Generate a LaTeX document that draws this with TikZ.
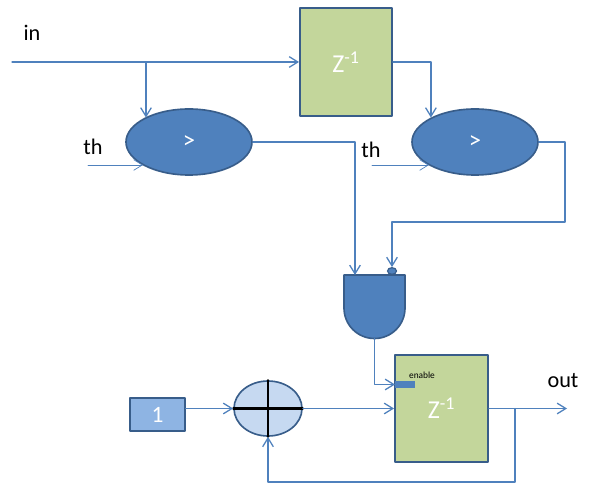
\documentclass[tikz,border=0pt]{standalone}
\usepackage{fontspec}
\setmainfont{Carlito}
\usetikzlibrary{arrows.meta,shapes.geometric}
\definecolor{wireblue}{HTML}{4F81BD}
\definecolor{edgeblue}{HTML}{385D8A}
\definecolor{cmpfill}{HTML}{4F81BD}
\definecolor{delayfill}{HTML}{C3D69B}
\definecolor{onefill}{HTML}{8EB4E3}
\definecolor{sumfill}{HTML}{C6D9F1}
\begin{document}
\begin{tikzpicture}[x=0.03cm, y=-0.03cm, line cap=round, line join=round,
    wire/.style={draw=wireblue, line width=1.1pt, -{Straight Barb[length=2.6mm,width=3.2mm]}},
    thin wire/.style={draw=wireblue, line width=0.6pt, -{Straight Barb[length=2.6mm,width=3.2mm]}},
    cmp/.style={ellipse, draw=edgeblue, line width=1.4pt, fill=cmpfill, text=white,
        minimum width=3.78cm, minimum height=1.98cm, inner sep=0pt, font=\fontsize{21}{22}\selectfont},
    delay/.style={rectangle, draw=edgeblue, line width=1.6pt, fill=delayfill, text=white,
        inner sep=0pt, font=\fontsize{22}{24}\selectfont},
    lbl/.style={font=\fontsize{19}{20}\selectfont}]
  \useasboundingbox (0,0) rectangle (591,484);

  % labels
  \node[lbl] (inLbl) at (32,33) {in};
  \node[lbl] (thLblA) at (93,147) {th};
  \node[lbl] (thLblB) at (371,150) {th};
  \node[lbl] (outLbl) at (563,381) {out};

  % blocks
  \node[delay, minimum width=2.76cm, minimum height=3.24cm] (dlyA) at (346,62) {Z\textsuperscript{-1}};
  \node[delay, minimum width=2.79cm, minimum height=3.21cm] (dlyB) at (441.5,408.5) {Z\textsuperscript{-1}};
  \node[cmp] (cmpA) at (189,142) {>};
  \node[cmp] (cmpB) at (475,142) {>};
  \node[rectangle, draw=edgeblue, line width=1.4pt, fill=onefill, text=white,
      minimum width=1.65cm, minimum height=0.99cm, inner sep=0pt,
      font=\fontsize{20}{22}\selectfont] (one) at (157.5,414.5) {1};
  \node[ellipse, draw=edgeblue, line width=1.4pt, fill=sumfill,
      minimum width=2.04cm, minimum height=1.65cm, inner sep=0pt] (sum) at (268,408.5) {};
  \draw[black, line width=2pt] (sum.north) -- (sum.south) (sum.west) -- (sum.east);

  % and gate
  \draw[draw=edgeblue, line width=1.4pt, fill=cmpfill]
      (344,275) -- (405,275) -- (405,308) to[out=-90,in=0] (374.5,338.5) to[out=180,in=-90] (344,308) -- cycle;
  \node[ellipse, draw=edgeblue, line width=1pt, fill=cmpfill, minimum width=0.27cm,
      minimum height=0.2cm, inner sep=0pt] (andBub) at (392,271) {};
  \coordinate (andIn) at (355,275);
  \coordinate (andOut) at (374.5,338.5);
  \node[rectangle, fill=cmpfill, minimum width=0.6cm, minimum height=0.21cm, inner sep=0pt,
      anchor=west] (enMark) at (395,384.5) {};
  \node[font=\fontsize{8}{9}\selectfont] (enLbl) at (422,375) {enable};

  % free ends
  \coordinate (inStart) at (12,62);
  \coordinate (tapIn) at (146,62);
  \coordinate (thA) at (88,165);
  \coordinate (thB) at (372,165);
  \coordinate (turnB) at (565,222);
  \coordinate (outEnd) at (567,408.5);
  \coordinate (tapOut) at (515,408.5);
  \coordinate (fbCorner) at (515,482);

  % wires
  \draw[wire] (inStart) -- (dlyA.west);
  \draw[wire] (tapIn) -- (tapIn |- cmpA.151);
  \draw[thin wire] (thA) -- (thA -| cmpA.207);
  \draw[wire] (dlyA.east) -| (cmpB.151);
  \draw[thin wire] (thB) -- (thB -| cmpB.207);
  \draw[wire] (cmpA.east) -| (andIn);
  \draw[wire] (cmpB.east) -| (turnB) -| (andBub.north);
  \draw[wire] (andOut) |- (enMark.west);
  \draw[wire] (sum.west -| one.east) -- (sum.west);
  \draw[wire] (sum.east) -- (dlyB.west);
  \draw[wire] (dlyB.east) -- (outEnd);
  \draw[wire] (tapOut) -- (fbCorner) -| (sum.south);
\end{tikzpicture}
\end{document}
